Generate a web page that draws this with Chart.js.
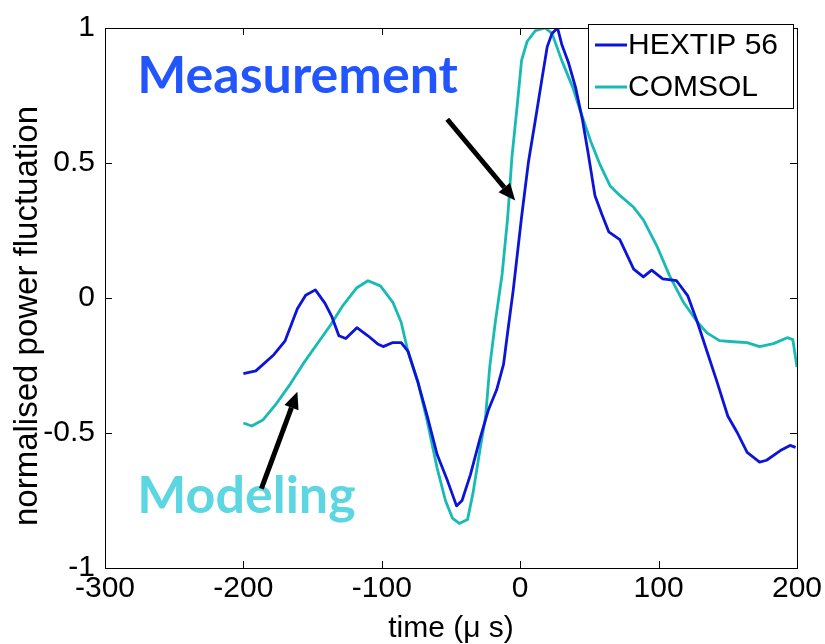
<!DOCTYPE html>
<html>
<head>
<meta charset="utf-8">
<script src="https://cdn.jsdelivr.net/npm/chart.js@4.4.1/dist/chart.umd.min.js"></script>
<style>
  html, body { margin: 0; padding: 0; background: #fff; }
  canvas { display: block; }
</style>
</head>
<body>
<canvas id="plot" width="825" height="644"></canvas>
<script>
// time axis (us) and normalised power for the two curves
var hextipTime = [-200,-191,-178,-170,-161,-155,-148,-141,-136,-131,-126,-118,-110,-103,-99,-92,-86,-81,-74,-67,-60,-53,-46,-42,-36,-29,-23,-17,-12,-9,-5,1,6,11,16,19.5,23,27,30,35,40,45,49,54,59,64,72,82,89,95,103,113,121,128,135,142,150,157,164,173,178,188,195,199];
var hextipPower = [-0.28,-0.27,-0.21,-0.16,-0.04,0.01,0.03,-0.02,-0.07,-0.14,-0.15,-0.11,-0.14,-0.17,-0.18,-0.165,-0.165,-0.198,-0.31,-0.44,-0.58,-0.67,-0.77,-0.75,-0.655,-0.52,-0.415,-0.34,-0.245,-0.125,0.03,0.30,0.505,0.66,0.82,0.93,0.98,1.0,0.94,0.87,0.78,0.66,0.54,0.38,0.31,0.245,0.216,0.107,0.078,0.103,0.071,0.064,0.009,-0.089,-0.198,-0.307,-0.437,-0.5,-0.572,-0.608,-0.601,-0.565,-0.546,-0.553];

var comsolTime = [-200,-194,-186,-176,-166,-157,-147,-137,-128,-118,-110,-101,-92,-86,-81,-74,-67,-60,-54,-49,-44,-38,-34,-29,-25,-22,-18,-13,-9,-6,-2,1,5,11,18,23,30,38,43,51,58,65,72,82,89,99,108,118,128,135,144,154,164,173,183,193,197,200];
var comsolPower = [-0.463,-0.474,-0.452,-0.39,-0.318,-0.245,-0.172,-0.1,-0.027,0.038,0.064,0.045,-0.016,-0.09,-0.2,-0.31,-0.46,-0.63,-0.75,-0.815,-0.835,-0.82,-0.72,-0.56,-0.44,-0.255,-0.09,0.09,0.30,0.52,0.72,0.88,0.95,0.99,1.0,0.98,0.88,0.78,0.70,0.58,0.49,0.415,0.38,0.336,0.289,0.19,0.082,-0.016,-0.089,-0.129,-0.158,-0.162,-0.165,-0.18,-0.169,-0.147,-0.154,-0.256];

var xTicks = [-300,-200,-100,0,100,200];
var yTicks = [-1,-0.5,0,0.5,1];

// callouts: text anchor and arrow (tail -> tip), in data units
var calloutText = ['Measurement','Modeling'];
var calloutAt = [[-276.7,0.76],[-276.7,-0.797]];
var arrowFrom = [[-52.7,0.662],[-187,-0.706]];
var arrowTo = [[-3.6,0.361],[-161,-0.347]];

var BLUE = 'rgb(12,20,215)';
var TEAL = 'rgb(24,186,180)';
var FONT = '"Liberation Sans", Arial, sans-serif';

function pts(t, p){
    var out = [];
    for (let i = 0; i < t.length; i++) out.push({x: t[i], y: p[i]});
    return out;
}

// matlab-ish box with inward ticks, plus the y label
var boxPlugin = {
    id: 'box',
    afterDatasetsDraw: function(chart){
        var ctx = chart.ctx, a = chart.chartArea;
        var xs = chart.scales.x, ys = chart.scales.y;
        ctx.save();
        ctx.strokeStyle = '#000';
        ctx.lineWidth = 1;
        ctx.strokeRect(a.left + 0.5, a.top + 0.5, a.right - a.left, a.bottom - a.top);
        ctx.beginPath();
        xTicks.forEach(function(v){
            var px = Math.round(xs.getPixelForValue(v)) + 0.5;
            ctx.moveTo(px, a.bottom); ctx.lineTo(px, a.bottom - 7);
            ctx.moveTo(px, a.top); ctx.lineTo(px, a.top + 7);
        });
        yTicks.forEach(function(v){
            var py = Math.round(ys.getPixelForValue(v)) + 0.5;
            ctx.moveTo(a.left, py); ctx.lineTo(a.left + 7, py);
            ctx.moveTo(a.right, py); ctx.lineTo(a.right - 7, py);
        });
        ctx.stroke();

        ctx.translate(28, 316);
        ctx.rotate(-Math.PI / 2);
        ctx.font = '33px ' + FONT;
        ctx.fillStyle = '#000';
        ctx.textAlign = 'center';
        ctx.textBaseline = 'middle';
        ctx.fillText('normalised power fluctuation', 0, 0);
        ctx.restore();
    }
};

var calloutPlugin = {
    id: 'callouts',
    afterDatasetsDraw: function(chart){
        var ctx = chart.ctx;
        var xs = chart.scales.x, ys = chart.scales.y;
        var colors = ['rgb(35,85,255)','rgb(92,214,224)'];
        ctx.save();
        for (let i = 0; i < calloutText.length; i++){
            ctx.font = 'bold 52px Lato';
            ctx.fillStyle = colors[i];
            ctx.textBaseline = 'alphabetic';
            ctx.textAlign = 'left';
            ctx.fillText(calloutText[i], xs.getPixelForValue(calloutAt[i][0]), ys.getPixelForValue(calloutAt[i][1]));

            var x0 = xs.getPixelForValue(arrowFrom[i][0]), y0 = ys.getPixelForValue(arrowFrom[i][1]);
            var x1 = xs.getPixelForValue(arrowTo[i][0]), y1 = ys.getPixelForValue(arrowTo[i][1]);
            var ang = Math.atan2(y1 - y0, x1 - x0);
            var head = 17, half = 7.5;
            var bx = x1 - head * Math.cos(ang), by = y1 - head * Math.sin(ang);
            ctx.strokeStyle = '#000';
            ctx.lineWidth = 5;
            ctx.beginPath();
            ctx.moveTo(x0, y0); ctx.lineTo(bx, by);
            ctx.stroke();
            ctx.fillStyle = '#000';
            ctx.beginPath();
            ctx.moveTo(x1, y1);
            ctx.lineTo(bx + half * Math.sin(ang), by - half * Math.cos(ang));
            ctx.lineTo(bx - half * Math.sin(ang), by + half * Math.cos(ang));
            ctx.closePath();
            ctx.fill();
        }
        ctx.restore();
    }
};

var legendPlugin = {
    id: 'boxLegend',
    afterDraw: function(chart){
        var ctx = chart.ctx;
        var left = 588, top = 24, w = 205, h = 84;
        ctx.save();
        ctx.fillStyle = '#fff';
        ctx.fillRect(left, top, w, h);
        ctx.strokeStyle = '#000';
        ctx.lineWidth = 1;
        ctx.strokeRect(left + 0.5, top + 0.5, w, h);
        ctx.font = '30px ' + FONT;
        ctx.textBaseline = 'middle';
        ctx.textAlign = 'left';
        chart.data.datasets.forEach(function(ds, i){
            var y = top + 21 + i * 42;
            ctx.strokeStyle = ds.borderColor;
            ctx.lineWidth = 3;
            ctx.beginPath();
            ctx.moveTo(left + 7, y); ctx.lineTo(left + 39, y);
            ctx.stroke();
            ctx.fillStyle = '#000';
            ctx.fillText(ds.label, left + 40, y + 1);
        });
        ctx.restore();
    }
};

var tickFont = {family: FONT, size: 30};

new Chart(document.getElementById('plot'), {
    type: 'line',
    data: {
        datasets: [
            {label: 'HEXTIP 56', data: pts(hextipTime, hextipPower), borderColor: BLUE, borderWidth: 2.8},
            {label: 'COMSOL', data: pts(comsolTime, comsolPower), borderColor: TEAL, borderWidth: 2.8}
        ]
    },
    options: {
        responsive: false,
        animation: false,
        devicePixelRatio: 1,
        layout: {padding: {top: 17, right: 28, left: 0, bottom: 0}},
        elements: {point: {radius: 0}, line: {tension: 0, borderJoinStyle: 'round'}},
        plugins: {legend: {display: false}, tooltip: {enabled: false}},
        scales: {
            x: {
                type: 'linear', min: -300, max: 200,
                afterBuildTicks: function(s){ s.ticks = xTicks.map(function(v){ return {value: v}; }); },
                afterFit: function(s){ s.height = 76; },
                grid: {display: false, drawTicks: false},
                border: {display: false},
                ticks: {font: tickFont, color: '#000', padding: 3, maxRotation: 0},
                title: {display: true, text: 'time (\u03bc s)', color: '#000', font: {family: FONT, size: 30}, padding: {top: 0, bottom: -3}}
            },
            y: {
                min: -1, max: 1,
                afterBuildTicks: function(s){ s.ticks = yTicks.map(function(v){ return {value: v}; }); },
                afterFit: function(s){ s.width = 105; },
                grid: {display: false, drawTicks: false},
                border: {display: false},
                ticks: {font: tickFont, color: '#000', padding: 10, callback: function(v){ return String(v); }}
            }
        }
    },
    plugins: [boxPlugin, calloutPlugin, legendPlugin]
});
</script>
</body>
</html>
